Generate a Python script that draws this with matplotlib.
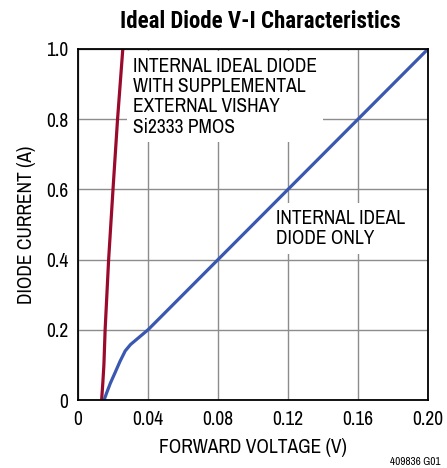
import matplotlib.pyplot as plt

# narrow sans, falls back to condensed DejaVu
plt.rcParams['font.family'] = ['Archivo Narrow', 'DejaVu Sans']
plt.rcParams['font.stretch'] = 'condensed'

# red curve: internal ideal diode + external PMOS
pmos_v = [0.0135, 0.0142, 0.0148, 0.0155, 0.0175, 0.0200, 0.0226, 0.0256]
pmos_i = [0.0, 0.05, 0.1, 0.2, 0.4, 0.6, 0.8, 1.0]

# blue curve: internal ideal diode only
int_v = [0.0149, 0.0165, 0.0185, 0.0211, 0.0240, 0.0270, 0.0300, 0.04, 0.08, 0.12, 0.16, 0.20]
int_i = [0.0, 0.022, 0.048, 0.077, 0.110, 0.140, 0.158, 0.20, 0.40, 0.60, 0.80, 1.00]

xticks = [0, 0.04, 0.08, 0.12, 0.16, 0.20]
xlabels = ['0', '0.04', '0.08', '0.12', '0.16', '0.20']
yticks = [0, 0.2, 0.4, 0.6, 0.8, 1.0]
ylabels = ['0', '0.2', '0.4', '0.6', '0.8', '1.0']

fig = plt.figure(figsize=(4.47, 4.68), dpi=100)
ax = fig.add_axes([78/447, 1 - 400/468, 350/447, 351/468])

ax.plot(pmos_v, pmos_i, color='#9a0a2c', lw=2.3, zorder=3, solid_capstyle='butt')
ax.plot(int_v, int_i, color='#3a58b0', lw=2.3, zorder=3, solid_capstyle='butt')

ax.set_xlim(0, 0.2)
ax.set_ylim(0, 1.0)
ax.set_xticks(xticks)
ax.set_xticklabels(xlabels)
ax.set_yticks(yticks)
ax.set_yticklabels(ylabels)
ax.tick_params(length=0, labelsize=14, pad=7)
ax.grid(True, color='#8c8c8c', lw=1.0)
ax.set_axisbelow(True)
for s in ax.spines.values():
    s.set_linewidth(1.3)
    s.set_color('black')
    s.set_zorder(4)

ax.set_xlabel('FORWARD VOLTAGE (V)', fontsize=14, labelpad=7)
ax.set_ylabel('DIODE CURRENT (A)', fontsize=14, labelpad=7)

ax.text(0.0315, 0.977, 'INTERNAL IDEAL DIODE\nWITH SUPPLEMENTAL\nEXTERNAL VISHAY\nSi2333 PMOS',
        fontsize=14, va='top', ha='left', linespacing=1.08, zorder=2,
        bbox=dict(facecolor='white', edgecolor='none', pad=4))
ax.text(0.1131, 0.545, 'INTERNAL IDEAL\nDIODE ONLY',
        fontsize=14, va='top', ha='left', linespacing=1.08, zorder=2,
        bbox=dict(facecolor='white', edgecolor='none', pad=4))

fig.text(260/447, 1 - 21/468, 'Ideal Diode V-I Characteristics', fontsize=16.5,
         fontweight='bold', ha='center', va='center',
         family=['Roboto Condensed', 'DejaVu Sans'])
fig.text(440/447, 1 - 462/468, '409836 G01', fontsize=8, ha='right', va='center')

fig.savefig('out.png', dpi=100)
